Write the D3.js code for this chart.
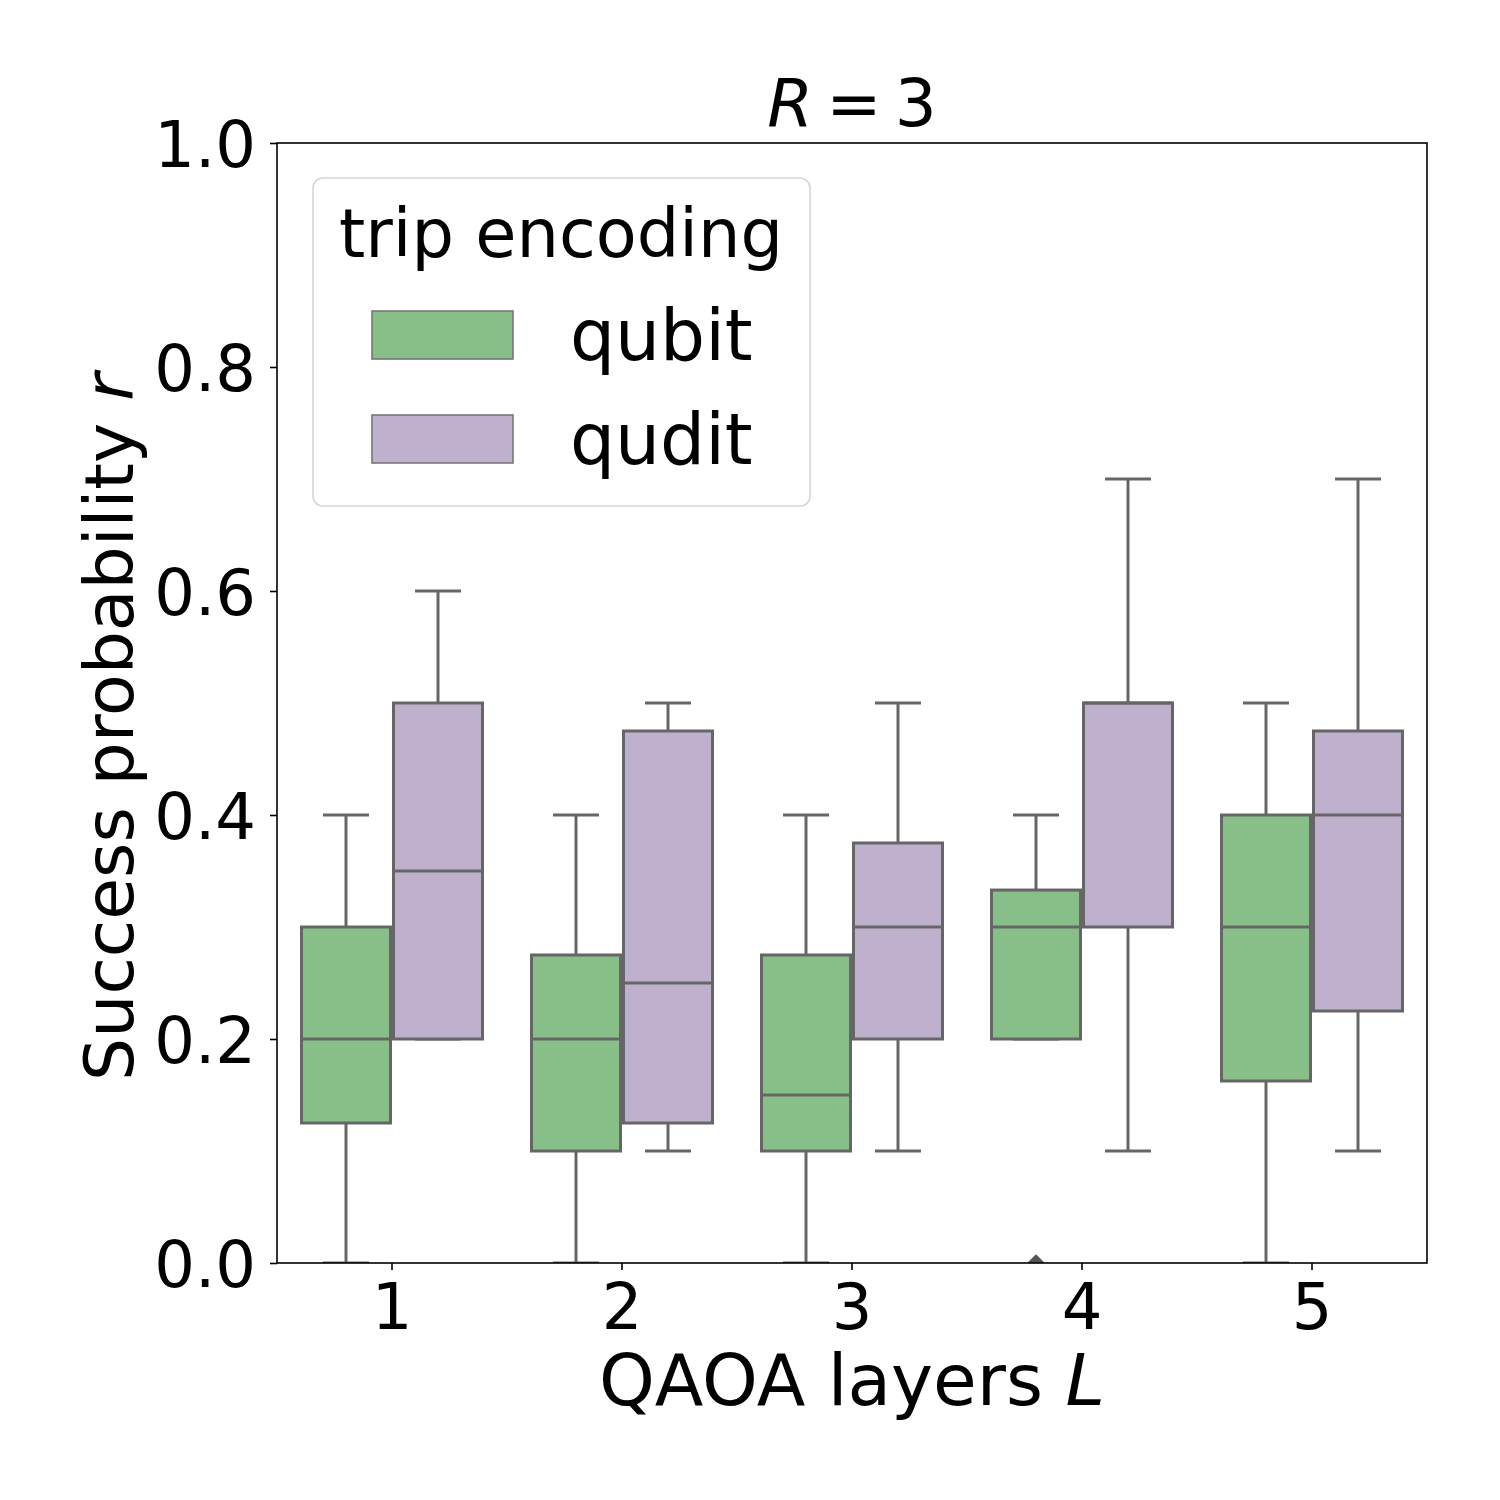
<!DOCTYPE html>
<html>
<head>
<meta charset="utf-8">
<script src="https://cdn.jsdelivr.net/npm/d3@7"></script>
<style>
  body { margin: 0; background: #fff; }
  text { font-family: "DejaVu Sans", sans-serif; fill: #000; }
</style>
</head>
<body>
<svg id="chart" width="1500" height="1500"></svg>
<script>
const layers = ['1', '2', '3', '4', '5'];
const encodings = ['qubit', 'qudit'];
const yTicks = [0.0, 0.2, 0.4, 0.6, 0.8, 1.0];

// [whisker low, q1, median, q3, whisker high] per layer
const qubitStats = [
  [0.0, 0.125, 0.2, 0.3, 0.4],
  [0.0, 0.1, 0.2, 0.275, 0.4],
  [0.0, 0.1, 0.15, 0.275, 0.4],
  [0.2, 0.2, 0.3, 0.333, 0.4],
  [0.0, 0.1625, 0.3, 0.4, 0.5]
];
const quditStats = [
  [0.2, 0.2, 0.35, 0.5, 0.6],
  [0.1, 0.125, 0.25, 0.475, 0.5],
  [0.1, 0.2, 0.3, 0.375, 0.5],
  [0.1, 0.3, 0.5, 0.5, 0.7],
  [0.1, 0.225, 0.4, 0.475, 0.7]
];
// outliers: [layer, encoding, value]
const outliers = [['4', 'qubit', 0.0]];

const colors = { qubit: '#88bf88', qudit: '#bfb1ce' };
const edge = '#666666';

const margin = { top: 143, right: 73, bottom: 237, left: 277 };
const width = 1500;
const height = 1500;

const svg = d3.select('#chart');

const x = d3.scaleBand()
  .domain(layers)
  .range([margin.left, width - margin.right])
  .padding(0);

const xHue = d3.scaleBand()
  .domain(encodings)
  .range([0, x.bandwidth() * 0.8])
  .padding(0);

const y = d3.scaleLinear()
  .domain([0, 1])
  .range([height - margin.bottom, margin.top]);

svg.append('defs').append('clipPath').attr('id', 'plot-clip')
  .append('rect')
  .attr('x', margin.left)
  .attr('y', margin.top)
  .attr('width', width - margin.left - margin.right)
  .attr('height', height - margin.top - margin.bottom);

const plot = svg.append('g').attr('clip-path', 'url(#plot-clip)');

const boxes = [];
layers.forEach((l, i) => {
  boxes.push({ layer: l, enc: 'qubit', s: qubitStats[i] });
  boxes.push({ layer: l, enc: 'qudit', s: quditStats[i] });
});

const offset = x.bandwidth() * 0.1;
const gap = 1.5;

const bg = plot.selectAll('.box')
  .data(boxes)
  .enter().append('g')
  .attr('class', 'box')
  .attr('transform', d => `translate(${x(d.layer) + offset + xHue(d.enc)},0)`);

const bw = xHue.bandwidth();
const cx = bw / 2;

// whiskers
bg.append('line')
  .attr('x1', cx).attr('x2', cx)
  .attr('y1', d => y(d.s[0])).attr('y2', d => y(d.s[1]))
  .attr('stroke', edge).attr('stroke-width', 3);
bg.append('line')
  .attr('x1', cx).attr('x2', cx)
  .attr('y1', d => y(d.s[3])).attr('y2', d => y(d.s[4]))
  .attr('stroke', edge).attr('stroke-width', 3);
// caps
bg.append('line')
  .attr('x1', cx - bw / 4).attr('x2', cx + bw / 4)
  .attr('y1', d => y(d.s[0])).attr('y2', d => y(d.s[0]))
  .attr('stroke', edge).attr('stroke-width', 3);
bg.append('line')
  .attr('x1', cx - bw / 4).attr('x2', cx + bw / 4)
  .attr('y1', d => y(d.s[4])).attr('y2', d => y(d.s[4]))
  .attr('stroke', edge).attr('stroke-width', 3);
// box
bg.append('rect')
  .attr('x', gap)
  .attr('width', bw - 2 * gap)
  .attr('y', d => y(d.s[3]))
  .attr('height', d => y(d.s[1]) - y(d.s[3]))
  .attr('fill', d => colors[d.enc])
  .attr('stroke', edge)
  .attr('stroke-width', 3);
// median
bg.append('line')
  .attr('x1', gap).attr('x2', bw - gap)
  .attr('y1', d => y(d.s[2])).attr('y2', d => y(d.s[2]))
  .attr('stroke', edge).attr('stroke-width', 3);

// outliers (diamonds)
plot.selectAll('.outlier')
  .data(outliers)
  .enter().append('path')
  .attr('class', 'outlier')
  .attr('d', d3.symbol().type(d3.symbolDiamond2).size(200))
  .attr('transform', d => `translate(${x(d[0]) + offset + xHue(d[1]) + cx},${y(d[2])})`)
  .attr('fill', '#555');

// axes
const xAxis = svg.append('g')
  .attr('transform', `translate(0,${height - margin.bottom})`)
  .call(d3.axisBottom(x).tickSize(7));
const yAxis = svg.append('g')
  .attr('transform', `translate(${margin.left},0)`)
  .call(d3.axisLeft(y).tickValues(yTicks).tickFormat(d3.format('.1f')).tickSize(7).tickPadding(14));

[xAxis, yAxis].forEach(a => {
  a.select('.domain').remove();
  a.selectAll('line').attr('stroke', '#000').attr('stroke-width', 1.6);
  a.selectAll('text').style('font-size', '64px').style('font-family', '"DejaVu Sans", sans-serif').attr('fill', '#000');
});
xAxis.selectAll('text').attr('y', 66).attr('dy', 0);
yAxis.selectAll('text').attr('dy', '0.36em');

// frame
svg.append('rect')
  .attr('x', margin.left)
  .attr('y', margin.top)
  .attr('width', width - margin.left - margin.right)
  .attr('height', height - margin.top - margin.bottom)
  .attr('fill', 'none')
  .attr('stroke', '#000')
  .attr('stroke-width', 1.6);

// title
const title = svg.append('text')
  .attr('x', (margin.left + width - margin.right) / 2)
  .attr('y', 126)
  .attr('text-anchor', 'middle')
  .style('font-size', '66px');
title.append('tspan').style('font-style', 'italic').text('R');
title.append('tspan').text('\u2009=\u20093');

// axis labels
const xl = svg.append('text')
  .attr('x', (margin.left + width - margin.right) / 2)
  .attr('y', 1405)
  .attr('text-anchor', 'middle')
  .style('font-size', '71px');
xl.append('tspan').text('QAOA layers ');
xl.append('tspan').style('font-style', 'italic').text('L');

const yl = svg.append('text')
  .attr('transform', `translate(133,727) rotate(-90)`)
  .attr('text-anchor', 'middle')
  .style('font-size', '68px');
yl.append('tspan').text('Success probability ');
yl.append('tspan').style('font-style', 'italic').text('r');

// legend
const legend = svg.append('g').attr('class', 'legend');
legend.append('rect')
  .attr('x', 313).attr('y', 178)
  .attr('width', 497).attr('height', 328)
  .attr('rx', 10)
  .attr('fill', '#fff')
  .attr('fill-opacity', 0.8)
  .attr('stroke', '#d6d6d6')
  .attr('stroke-width', 1.6);
legend.append('text')
  .attr('x', 561).attr('y', 257)
  .attr('text-anchor', 'middle')
  .style('font-size', '67px')
  .text('trip encoding');
const items = legend.selectAll('.legend-item')
  .data(encodings)
  .enter().append('g')
  .attr('class', 'legend-item')
  .attr('transform', (d, i) => `translate(0,${i * 104})`);
items.append('rect')
  .attr('x', 372).attr('y', 311)
  .attr('width', 141).attr('height', 48)
  .attr('fill', d => colors[d])
  .attr('stroke', '#777')
  .attr('stroke-width', 1.6);
items.append('text')
  .attr('x', 570).attr('y', 360)
  .style('font-size', '71px')
  .text(d => d);
</script>
</body>
</html>
